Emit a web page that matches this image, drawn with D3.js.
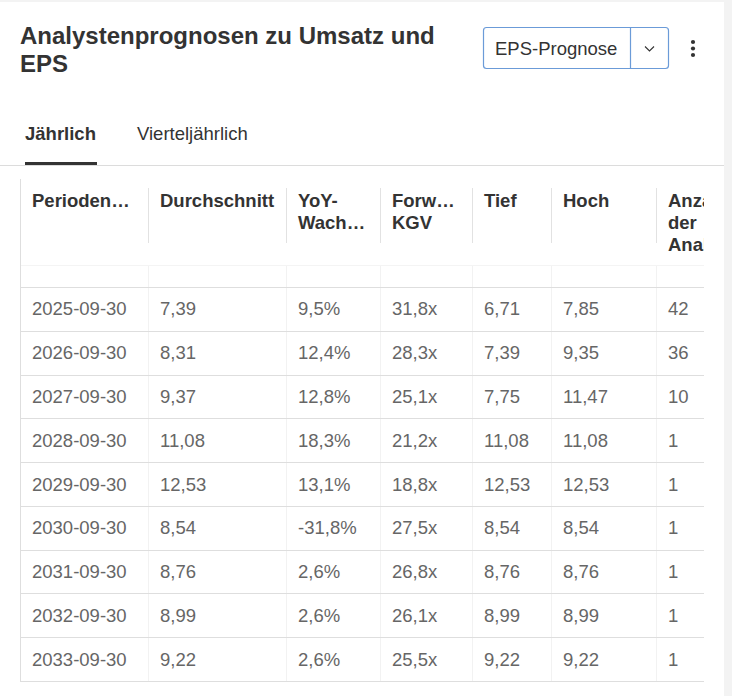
<!DOCTYPE html>
<html><head><meta charset="utf-8">
<script src="https://cdn.jsdelivr.net/npm/d3@7"></script>
<style>
html,body{margin:0;padding:0;background:#f3f3f3;}
svg{display:block;font-family:"Liberation Sans",Arial,Helvetica,sans-serif;}
</style></head>
<body>
<svg id="c" width="732" height="696"></svg>
<script>
// ---- data ----
const periods = ["2025-09-30","2026-09-30","2027-09-30","2028-09-30","2029-09-30","2030-09-30","2031-09-30","2032-09-30","2033-09-30"];
const average = [7.39, 8.31, 9.37, 11.08, 12.53, 8.54, 8.76, 8.99, 9.22];
const yoyGrowth = [9.5, 12.4, 12.8, 18.3, 13.1, -31.8, 2.6, 2.6, 2.6];
const forwardPE = [31.8, 28.3, 25.1, 21.2, 18.8, 27.5, 26.8, 26.1, 25.5];
const low = [6.71, 7.39, 7.75, 11.08, 12.53, 8.54, 8.76, 8.99, 9.22];
const high = [7.85, 9.35, 11.47, 11.08, 12.53, 8.54, 8.76, 8.99, 9.22];
const analysts = [42, 36, 10, 1, 1, 1, 1, 1, 1];
const headers = [["Perioden…"],["Durchschnitt"],["YoY-","Wach…"],["Forw…","KGV"],["Tief"],["Hoch"],["Anzahl","der","Analysten"]];
const titleLines = ["Analystenprognosen zu Umsatz und","EPS"];
const tabs = ["Jährlich","Vierteljährlich"];
const dropdownLabel = "EPS-Prognose";

// ---- layout ----
const colStarts = [20,148,286,380,472,551,656];
const tableRight = 704;
const loc = d3.formatLocale({decimal:",", thousands:".", grouping:[3], currency:["","€"], minus:"-"});
const f2 = loc.format(".2f"), f1 = loc.format(".1f");

const svg = d3.select("#c");
svg.append("rect").attr("x",0).attr("y",2).attr("width",724).attr("height",694).attr("fill","#fff");

// title
svg.append("g").selectAll("text").data(titleLines).join("text")
  .attr("x",20).attr("y",(d,i)=>44+i*28)
  .attr("font-size",24).attr("font-weight","bold").attr("fill","#333").text(d=>d);

// dropdown
const dd = svg.append("g");
dd.append("rect").attr("x",483.5).attr("y",27.5).attr("width",185).attr("height",41).attr("rx",3)
  .attr("fill","#fff").attr("stroke","#6b9bd8").attr("stroke-width",1.2);
dd.append("line").attr("x1",630.5).attr("x2",630.5).attr("y1",27.5).attr("y2",68.5).attr("stroke","#6b9bd8").attr("stroke-width",1.2);
dd.append("text").attr("x",495).attr("y",54.6).attr("font-size",18.5).attr("fill","#333").text(dropdownLabel);
dd.append("path").attr("d","M645,46.5 L649.5,51 L654,46.5").attr("fill","none").attr("stroke","#333").attr("stroke-width",1.1);
svg.append("g").selectAll("circle").data([42,48.5,55]).join("circle")
  .attr("cx",693).attr("cy",d=>d).attr("r",2.1).attr("fill","#333");

// tabs
svg.append("g").selectAll("text").data(tabs).join("text")
  .attr("x",(d,i)=>i?137:25).attr("y",140)
  .attr("font-size",18.5).attr("font-weight",(d,i)=>i?"normal":"bold").attr("fill","#333").text(d=>d);
svg.append("line").attr("x1",0).attr("x2",724).attr("y1",165.5).attr("y2",165.5).attr("stroke","#dcdcdc");
svg.append("rect").attr("x",25).attr("y",162).attr("width",72).attr("height",3).attr("fill","#333");

// table
const tbl = svg.append("g");
const clip = svg.append("defs").append("clipPath").attr("id","tc");
clip.append("rect").attr("x",20).attr("y",170).attr("width",tableRight-20).attr("height",520);
const T = tbl.attr("clip-path","url(#tc)");

const y = d3.scaleBand().domain(periods).range([287,681]).padding(0);
const headY = d3.scaleLinear().domain([0,1]).range([206.6,228.6]);

// header separators
T.append("g").selectAll("line").data(colStarts.slice(1)).join("line")
  .attr("x1",d=>d+0.5).attr("x2",d=>d+0.5).attr("y1",188).attr("y2",243).attr("stroke","#e2e2e2");
T.append("g").selectAll("line").data(colStarts.slice(1)).join("line")
  .attr("x1",d=>d+0.5).attr("x2",d=>d+0.5).attr("y1",265).attr("y2",681).attr("stroke","#f2f2f2");
T.append("line").attr("x1",20).attr("x2",tableRight).attr("y1",265.5).attr("y2",265.5).attr("stroke","#f4f4f4");

// header text
const hg = T.append("g").selectAll("g").data(headers).join("g");
hg.selectAll("text").data((d,i)=>d.map(t=>({t,i}))).join("text")
  .attr("x",d=>colStarts[d.i]+12).attr("y",(d,j)=>headY(j))
  .attr("font-size",18.5).attr("font-weight","bold").attr("fill","#333").text(d=>d.t);

// row lines
T.append("g").selectAll("line").data([287].concat(periods.map(p=>y(p)+y.bandwidth()))).join("line")
  .attr("x1",20).attr("x2",tableRight).attr("y1",d=>Math.round(d)+0.5).attr("y2",d=>Math.round(d)+0.5).attr("stroke","#dedede");

// cells
const cols = [
  periods,
  average.map(f2),
  yoyGrowth.map(v=>f1(v)+"%"),
  forwardPE.map(v=>f1(v)+"x"),
  low.map(f2),
  high.map(f2),
  analysts.map(String)
];
const cg = T.append("g").selectAll("g").data(cols).join("g");
cg.selectAll("text").data((d,i)=>d.map((t,r)=>({t,i,r}))).join("text")
  .attr("x",d=>colStarts[d.i]+12).attr("y",d=>y(periods[d.r])+y.bandwidth()/2+6.6)
  .attr("font-size",18.5).attr("fill","#666").text(d=>d.t);

// left border
svg.append("line").attr("x1",20.5).attr("x2",20.5).attr("y1",179).attr("y2",681).attr("stroke","#dedede");
</script>
</body></html>
